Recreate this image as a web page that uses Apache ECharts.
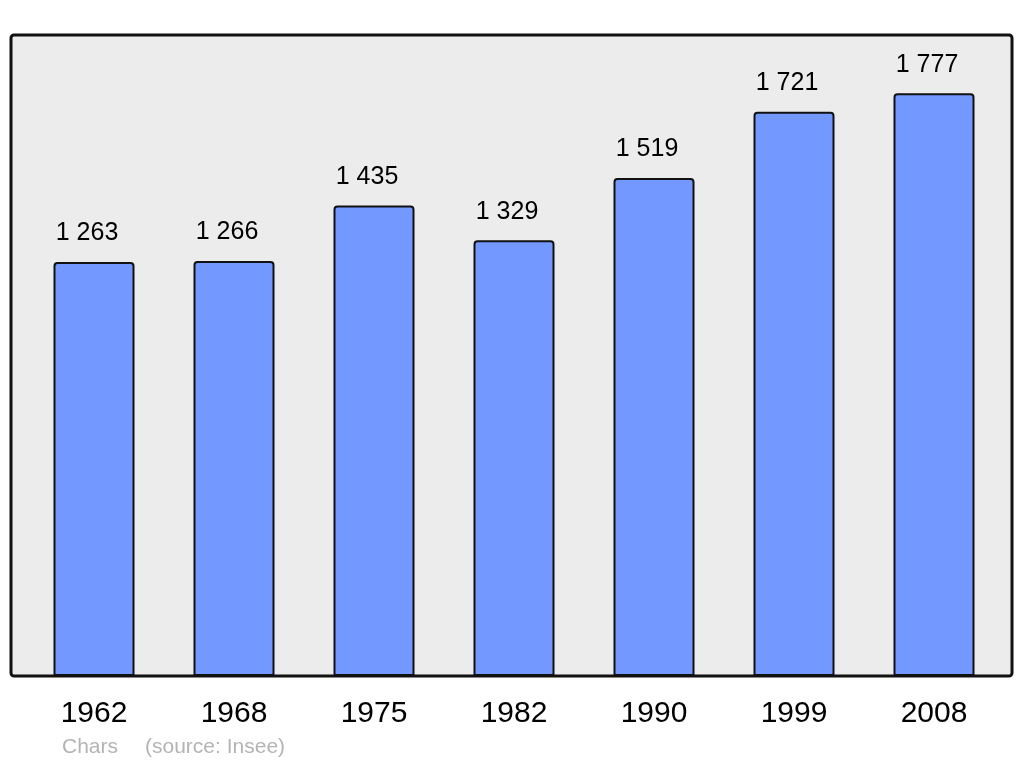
<!DOCTYPE html>
<html>
<head>
<meta charset="utf-8">
<style>html,body{margin:0;padding:0;background:#fff;}#c{width:1024px;height:765px;}</style>
<script src="https://cdn.jsdelivr.net/npm/echarts@6/dist/echarts.min.js"></script>
</head>
<body>
<div id="c"></div>
<script>
var years = ['1962', '1968', '1975', '1982', '1990', '1999', '2008'];
var population = [1263, 1266, 1435, 1329, 1519, 1721, 1777];
var footerName = 'Chars';
var footerSource = '(source: Insee)';

function fmt(v) {
  return String(v).replace(/\B(?=(\d{3})+(?!\d))/g, ' ');
}

var chart = echarts.init(document.getElementById('c'), null, {renderer: 'canvas'});
chart.setOption({
  animation: false,
  backgroundColor: '#ffffff',
  grid: {left: 24, right: 20, top: 35, bottom: 89},
  graphic: [
    {type: 'rect', z: 0, shape: {x: 11, y: 35, width: 1001, height: 641, r: 3},
     style: {fill: '#ececec', stroke: '#111111', lineWidth: 3}},
    {type: 'text', left: 62, top: 737,
     style: {text: footerName, fill: '#b4b4b4', font: '21px "Liberation Sans", Arial, sans-serif'}},
    {type: 'text', left: 145, top: 737,
     style: {text: footerSource, fill: '#b4b4b4', font: '21px "Liberation Sans", Arial, sans-serif'}}
  ],
  xAxis: {
    type: 'category', data: years, boundaryGap: true,
    axisLine: {show: false}, axisTick: {show: false},
    axisLabel: {color: '#000', fontSize: 30, margin: 23, fontFamily: '"Liberation Sans", Arial, sans-serif'}
  },
  yAxis: {
    type: 'value', min: 0, max: 1955, show: false, splitLine: {show: false}
  },
  series: [{
    type: 'bar', data: population, barWidth: 81, z: 5,
    itemStyle: {color: '#7398ff', borderColor: '#111111', borderWidth: 2, borderRadius: [3, 3, 0, 0]},
    label: {show: true, position: 'top', distance: 16, offset: [-7, 0], color: '#000', fontSize: 25,
      fontFamily: '"Liberation Sans", Arial, sans-serif',
      formatter: function (p) { return fmt(p.value); }}
  }]
});
</script>
</body>
</html>
